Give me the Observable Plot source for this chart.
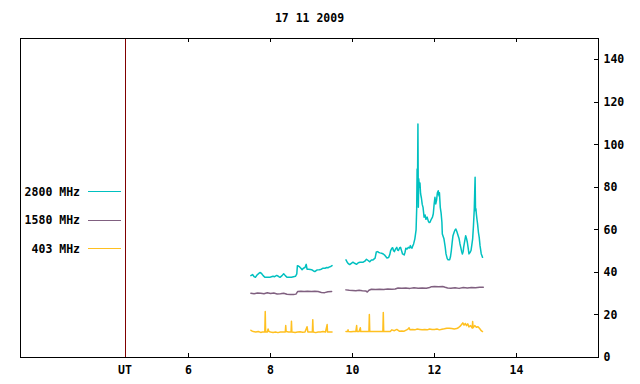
<!DOCTYPE html>
<html>
<head>
<meta charset="utf-8">
<script src="https://cdn.jsdelivr.net/npm/d3@7"></script>
<script src="https://cdn.jsdelivr.net/npm/@observablehq/plot@0.6"></script>
<style>
  html, body { margin: 0; padding: 0; background: #fff; }
</style>
</head>
<body>
<div id="chart"></div>
<script>
const titleText = "17 11 2009";
const utMark = 4.45;
const xTicks = [6, 8, 10, 12, 14];
const yTicks = [0, 20, 40, 60, 80, 100, 120, 140];
const seriesNames = ["2800 MHz", "1580 MHz", "403 MHz"];
const seriesColors = ["#00c0c0", "#806080", "#ffc020"];

// 2800 MHz (null marks the data gap)
const t2800 = [7.52,7.56,7.60,7.63,7.67,7.70,7.74,7.78,7.82,7.86,7.92,7.98,8.02,8.06,8.10,8.15,8.19,8.23,8.28,8.32,8.36,8.40,8.46,8.51,8.56,8.61,8.64,8.655,8.68,8.71,8.74,8.77,8.80,8.84,8.87,8.89,8.93,8.97,9.00,9.04,9.08,9.12,9.15,9.19,9.24,9.28,9.33,9.37,9.40,9.44,9.47,9.50,
  9.65,
  9.84,9.87,9.89,9.93,9.97,10.01,10.05,10.10,10.14,10.18,10.22,10.26,10.30,10.34,10.38,10.42,10.46,10.50,10.55,10.58,10.61,10.64,10.67,10.71,10.75,10.79,10.84,10.88,10.91,10.93,10.96,10.98,11.00,11.02,11.05,11.08,11.10,11.12,11.15,11.17,11.20,11.22,11.26,11.28,11.30,11.33,11.36,11.39,11.41,11.43,11.45,11.47,11.49,11.52,11.55,11.565,11.575,11.585,11.595,11.605,11.615,11.63,11.645,11.66,11.68,11.70,11.72,11.745,11.77,11.79,11.82,11.85,11.87,11.89,11.92,11.95,11.97,11.99,12.01,12.03,12.05,12.07,12.09,12.11,12.12,12.14,12.16,12.18,12.19,12.23,12.26,12.28,12.31,12.33,12.37,12.39,12.41,12.43,12.45,12.48,12.50,12.52,12.54,12.55,12.58,12.60,12.62,12.64,12.66,12.68,12.70,12.71,12.73,12.76,12.78,12.80,12.82,12.84,12.87,12.89,12.91,12.93,12.95,12.97,12.98,12.99,13.00,13.01,13.02,13.035,13.05,13.07,13.09,13.11,13.14,13.155,13.17];
const v2800 = [38.5,39.0,38.0,37.7,38.8,39.3,40.0,39.5,38.5,37.7,37.7,37.7,38.0,38.2,38.0,38.6,38.2,37.7,38.5,39.4,38.5,37.7,37.7,37.7,38.0,38.2,39.3,43.2,43.0,42.6,42.0,41.3,42.0,42.3,43.8,41.5,41.5,41.4,41.3,40.8,40.4,41.0,41.2,41.3,41.5,42.0,42.0,42.3,42.2,42.6,42.8,43.2,
  null,
  45.9,44.8,44.3,43.7,44.3,44.8,44.3,43.8,44.6,44.8,44.8,44.8,45.3,46.2,45.6,45.0,45.8,45.9,46.7,49.6,49.8,49.4,49.2,49.0,48.7,48.0,46.8,47.0,48.5,50.3,51.4,51.6,50.2,49.8,51.0,51.8,50.5,50.3,51.6,51.8,50.0,48.7,48.2,49.5,51.4,51.0,51.8,51.5,52.6,51.6,51.4,52.5,53.4,55.8,60.0,70.0,88.6,80.0,109.8,70.6,84.0,80.0,82.0,77.0,75.0,72.0,70.6,66.0,67.0,65.0,66.0,64.0,63.5,63.6,65.0,66.0,67.6,72.0,75.3,72.2,74.0,77.5,78.4,76.0,77.5,70.6,68.0,63.6,58.1,55.8,52.0,48.7,46.5,46.0,46.0,47.5,50.3,54.0,57.3,59.0,60.0,60.4,59.5,58.9,57.0,55.8,53.5,51.8,50.0,48.7,50.0,51.8,54.0,57.3,56.0,54.2,51.5,48.7,49.5,50.3,53.0,55.8,62.0,70.0,77.7,84.7,69.0,70.0,67.5,65.0,62.8,59.0,56.5,52.6,48.7,48.0,47.1];

// 1580 MHz
const t1580 = [7.52,7.60,7.68,7.76,7.84,7.92,8.00,8.08,8.16,8.24,8.32,8.40,8.48,8.56,8.62,8.66,8.74,8.82,8.90,9.00,9.08,9.16,9.24,9.32,9.40,9.49,
  9.65,
  9.84,9.92,10.00,10.08,10.16,10.24,10.32,10.36,10.40,10.46,10.56,10.66,10.76,10.86,10.96,11.04,11.11,11.20,11.30,11.40,11.50,11.60,11.70,11.80,11.88,11.93,12.00,12.10,12.20,12.26,12.32,12.40,12.50,12.60,12.70,12.80,12.90,13.00,13.10,13.19];
const v1580 = [30.2,30.0,30.3,30.2,30.0,30.4,30.1,30.3,29.9,30.0,30.2,29.7,29.6,29.6,29.8,31.0,31.1,31.0,31.2,31.0,31.1,31.0,30.6,30.5,30.9,31.0,
  null,
  31.8,31.6,31.5,31.4,31.6,31.4,31.3,30.8,31.6,32.1,32.0,32.1,32.0,32.2,32.1,32.2,32.7,32.6,32.7,32.5,32.8,32.6,32.7,32.6,32.9,33.3,33.4,33.3,33.4,33.0,32.7,32.6,32.8,32.5,32.9,32.7,32.9,32.8,33.0,33.0];

// 403 MHz
const t403 = [7.52,7.54,7.58,7.64,7.70,7.76,7.80,7.86,7.87,7.88,7.92,7.94,7.96,8.00,8.06,8.12,8.18,8.24,8.30,8.36,8.37,8.38,8.44,8.50,8.51,8.52,8.60,8.66,8.72,8.78,8.84,8.89,8.91,8.96,9.02,9.03,9.04,9.10,9.16,9.22,9.28,9.34,9.38,9.39,9.44,9.50,
  9.65,
  9.84,9.88,9.89,9.90,9.96,10.02,10.08,10.10,10.11,10.16,10.19,10.20,10.26,10.32,10.40,10.41,10.42,10.50,10.58,10.66,10.74,10.75,10.76,10.84,10.92,10.96,11.02,11.08,11.14,11.20,11.26,11.32,11.36,11.38,11.40,11.46,11.52,11.58,11.64,11.70,11.76,11.82,11.88,11.94,12.00,12.06,12.12,12.18,12.24,12.30,12.36,12.42,12.48,12.54,12.58,12.62,12.66,12.69,12.72,12.75,12.78,12.81,12.84,12.88,12.92,12.93,12.94,12.98,13.02,13.06,13.10,13.14,13.17];
const v403 = [12.8,12.5,12.2,12.0,12.2,11.8,12.0,12.0,21.6,12.0,12.0,13.4,12.2,12.0,11.8,12.0,11.7,12.0,12.0,12.0,15.0,12.2,12.0,12.0,17.0,12.0,11.8,12.0,12.1,11.9,12.0,14.5,12.0,12.0,12.0,17.8,12.0,11.7,12.0,12.0,12.2,12.0,15.5,12.0,12.0,12.0,
  null,
  12.2,12.2,13.0,12.2,12.1,12.2,12.2,15.0,12.2,12.2,14.0,12.2,12.2,12.2,12.2,20.2,12.2,12.2,12.2,12.2,12.2,21.2,12.2,12.2,12.2,13.0,12.6,13.2,12.4,12.5,12.4,13.0,13.5,14.0,13.0,13.2,13.0,13.4,13.2,13.0,13.2,13.0,13.4,13.2,13.2,13.4,13.0,13.3,13.5,13.8,13.8,13.6,13.4,13.6,14.0,14.6,15.5,16.3,15.2,16.0,15.0,15.8,14.4,15.0,13.8,16.9,14.0,15.0,14.2,14.5,13.6,12.6,12.2];

const series = [t2800, t1580, t403].map((t, k) => {
  const v = [v2800, v1580, v403][k];
  return t.map((x, i) => ({x, y: v[i], s: seriesNames[k]}));
});

const W = 640, H = 384, mL = 20, mR = 42, mT = 38, mB = 27;
const pw = W - mL - mR, ph = H - mT - mB;
const font = "'DejaVu Sans Mono', monospace";

function legendMark(index, scales, values, dims) {
  const g = d3.create("svg:g");
  seriesNames.forEach((name, i) => {
    const y = 191.5 + i * 28.5;
    g.append("text").attr("x", 80).attr("y", y).attr("dy", "0.35em")
      .attr("text-anchor", "end").attr("fill", "black").text(name);
    g.append("line").attr("x1", 88).attr("x2", 121).attr("y1", y).attr("y2", y)
      .attr("stroke", seriesColors[i]).attr("stroke-width", 1)
      .attr("shape-rendering", "crispEdges");
  });
  return g.node();
}

const chart = Plot.plot({
  width: W, height: H,
  marginLeft: mL, marginRight: mR, marginTop: mT, marginBottom: mB,
  style: {fontFamily: font, fontSize: "11.5px", fontWeight: "bold", background: "white", color: "black"},
  x: {domain: [1.9, 16]},
  y: {domain: [0, 150]},
  marks: [
    Plot.ruleX([utMark], {stroke: "#800000", strokeWidth: 1, shapeRendering: "crispEdges"}),
    ...series.map((d, k) => Plot.line(d, {x: "x", y: "y", stroke: seriesColors[k], strokeWidth: 1.5, curve: "linear"})),
    Plot.ruleX(xTicks, {insetTop: ph - 4, stroke: "black", shapeRendering: "crispEdges"}),
    Plot.ruleX(xTicks, {insetBottom: ph - 4, stroke: "black", shapeRendering: "crispEdges"}),
    Plot.ruleY(yTicks, {insetLeft: pw - 4, stroke: "black", shapeRendering: "crispEdges"}),
    Plot.frame({stroke: "black", shapeRendering: "crispEdges"}),
    Plot.axisX([utMark, ...xTicks], {anchor: "bottom", tickSize: 0, tickPadding: 8,
      tickFormat: d => d === utMark ? "UT" : String(d), label: null}),
    Plot.axisY(yTicks, {anchor: "right", tickSize: 0, tickPadding: 5, label: null}),
    Plot.text([titleText], {frameAnchor: "top", lineAnchor: "middle", dy: -20, text: d => d, fill: "black"}),
    legendMark
  ]
});
document.getElementById("chart").appendChild(chart);
</script>
</body>
</html>
